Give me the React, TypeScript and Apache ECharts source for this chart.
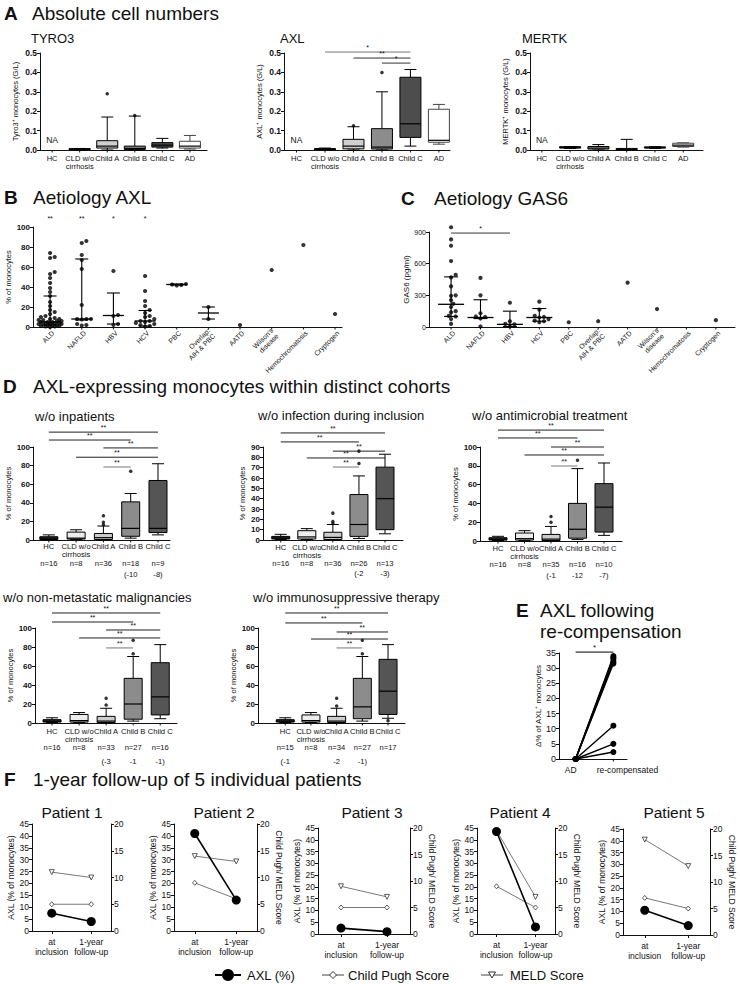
import React, { useEffect, useRef } from 'react';
import * as echarts from 'echarts';

const FONT = '"Liberation Sans", Arial, Helvetica, sans-serif';
const INK = '#111111';

/* ---------------- A: absolute cell numbers ---------------- */
const aCategories = ['HC', 'CLD w/o\ncirrhosis', 'Child A', 'Child B', 'Child C', 'AD'];
// per category: [min, Q1, median, Q3, max]; null = not available
const tyro3Box = [null, [0.001, 0.003, 0.005, 0.007, 0.008], [0, 0.01, 0.02, 0.048, 0.17], [0, 0.003, 0.008, 0.02, 0.175], [0.01, 0.015, 0.025, 0.038, 0.06], [0.005, 0.01, 0.02, 0.045, 0.075]];
const tyro3Outliers = [[2, 0.29], [3, 0.178]];
const axlBox = [null, [0.001, 0.003, 0.005, 0.007, 0.01], [0, 0.006, 0.02, 0.055, 0.12], [0, 0.005, 0.015, 0.11, 0.3], [0.02, 0.065, 0.135, 0.375, 0.415], [0.03, 0.04, 0.05, 0.21, 0.235]];
const axlOutliers = [[2, 0.125], [3, 0.4]];
const axlSig = [[1, 4, 0.505], [2, 4, 0.474], [3, 4, 0.448]];
const axlSigText = ['*', '**', '*'];
const mertkBox = [null, [0.008, 0.01, 0.013, 0.017, 0.018], [0, 0.005, 0.01, 0.018, 0.028], [0, 0.001, 0.003, 0.008, 0.055], [0.008, 0.01, 0.013, 0.016, 0.017], [0.015, 0.018, 0.025, 0.035, 0.037]];
const naNote = [[0, 0.05]];

/* ---------------- B / C: aetiology ---------------- */
const aetiologies = ['ALD', 'NAFLD', 'HBV', 'HCV', 'PBC', 'Overlap:\nAIH & PBC', 'AATD', "Wilson's\ndisease", 'Hemochromatosis', 'Cryptogen'];
const bALD = [74, 70, 69, 55, 53, 49, 44, 39, 35, 31, 25, 21, 17, 15, 13, 11, 10, 9, 8, 8, 7, 7, 6, 6, 5, 5, 5, 4, 4, 4, 3, 3, 3, 2.5, 2, 2, 1.5, 1, 1, 0.5, 0.5, 0];
const bNAFLD = [86, 84, 72, 67, 58, 22, 8, 8, 8, 7.5, 3, 2, 1.5];
const bHBV = [56, 12, 11, 3, 2];
const bHCV = [51, 36, 26, 21, 17, 14, 11, 10, 8, 6, 6, 5, 4, 3, 2, 1, 0.5];
const bPBC = [43, 42.5, 42, 41.5];
const bOverlap = [20, 8];
const bAATD = [2];
const bWilson = [57];
const bHemochromatosis = [82];
const bCryptogen = [13];
// [Q1, median, Q3]
const bMedianIQR = [[2, 5, 31], [7, 8, 68], [3, 11.5, 34], [1, 6, 16.5], [42, 42.5, 43], [8, 14, 20], null, null, null, null];
const bSig = [[0, 0, 104], [1, 1, 104], [2, 2, 104], [3, 3, 104]];
const bSigText = ['**', '**', '*', '*'];

const cALD = [945, 830, 770, 625, 495, 470, 385, 300, 295, 255, 220, 190, 150, 140, 105, 100, 75, 30];
const cNAFLD = [465, 300, 130, 100, 95, 80, 5];
const cHBV = [230, 55, 30, 25, 5];
const cHCV = [240, 165, 105, 95, 90, 75, 60, 55, 45];
const cPBC = [45];
const cOverlap = [55];
const cAATD = [420];
const cWilson = [170];
const cHemochromatosis: number[] = [];
const cCryptogen = [65];
const cMedianIQR = [[100, 215, 475], [80, 90, 258], [5, 25, 150], [55, 90, 175], null, null, null, null, null, null];
const cSig = [[0, 2, 890]];
const cSigText = ['*'];

/* ---------------- D: cohorts ---------------- */
const dCategories = ['HC', 'CLD w/o\ncirrhosis', 'Child A', 'Child B', 'Child C'];
const d1Box = [[0, 0.5, 2, 3.5, 5.5], [0.5, 1, 2, 8.5, 11], [0, 0.5, 2.5, 7, 15], [2, 4, 12.5, 41, 50], [5.5, 8, 12.5, 64, 82]];
const d1Outliers = [[2, 26], [2, 19], [2, 16.5], [3, 74]];
const d1N = ['n=16', 'n=8', 'n=36', 'n=18', 'n=9'];
const d1Extra = ['', '', '', '(-10', '-8)'];
const d1Sig = [[0, 4, 116], [0, 3, 107.5], [2, 4, 99], [1, 4, 89], [2, 3, 78.5]];

const d2Box = [[0.5, 1, 2, 3.5, 5.5], [0.5, 1, 3, 9, 11], [0, 0.5, 2.5, 7.5, 15], [1.5, 3.5, 15, 44, 62], [6, 10, 40, 70.5, 83]];
const d2Outliers = [[2, 26], [2, 18], [2, 16], [3, 74], [3, 86]];
const d2N = ['n=16', 'n=8', 'n=36', 'n=26', 'n=13'];
const d2Extra = ['', '', '', '(-2', '-3)'];
const d2Sig = [[0, 4, 103.6], [0, 3, 94.9], [2, 4, 86], [1, 4, 79.4], [2, 3, 70.6]];

const d3Box = [[0.5, 1, 2, 3.5, 5], [0.5, 1, 2.5, 8.5, 11], [0, 0.5, 2, 7, 15.5], [1.5, 3, 12.5, 40, 77], [6, 9.5, 36, 61, 83]];
const d3Outliers = [[2, 26], [2, 20], [3, 86]];
const d3N = ['n=16', 'n=8', 'n=35', 'n=16', 'n=10'];
const d3Extra = ['', '', '(-1', '-12', '-7)'];
const d3Sig = [[0, 4, 118], [0, 3, 109.6], [2, 4, 100], [1, 4, 91.5], [2, 3, 79.8]];

const d4Box = [[0.5, 1, 2, 3.5, 5.5], [0.5, 1, 2.5, 9, 11], [0, 0.5, 2, 7, 15.5], [2, 4, 20, 47, 70], [4.5, 8.5, 27.5, 63.5, 82.5]];
const d4Outliers = [[2, 26], [2, 19], [3, 73], [3, 87]];
const d4N = ['n=16', 'n=8', 'n=33', 'n=27', 'n=16'];
const d4Extra = ['', '', '(-3', '-1', '-1)'];
const d4Sig = [[0, 4, 115.8], [0, 3, 106.3], [2, 4, 97.9], [1, 4, 89.5], [2, 3, 79]];

const d5Box = [[0.5, 1, 2, 3.5, 5.5], [0.5, 1, 2.5, 8.5, 11], [0, 0.5, 2, 7, 15.5], [2, 4.5, 17, 47, 70], [5, 9, 33.5, 67, 82.5]];
const d5Outliers = [[2, 26], [2, 18], [3, 73], [3, 87], [4, 2.5]];
const d5N = ['n=15', 'n=8', 'n=34', 'n=27', 'n=17'];
const d5Extra = ['(-1', '', '-2', '-1)', ''];
const d5Sig = [[0, 4, 115.8], [0, 3, 105.3], [2, 4, 95.8], [1, 4, 88.4], [2, 3, 79]];
const dSigText = ['**', '**', '**', '**', '**'];

/* ---------------- E ---------------- */
const eCategories = ['AD', 're-compensated'];
const eAD = [0, 0, 0, 0, 0, 0, 0, 0];
const eRecompensated = [34, 33.5, 33, 32.2, 31.5, 11, 5, 2.3];
const eSig = [[0, 1, 35.3]];

/* ---------------- F ---------------- */
const fCategories = ['at\ninclusion', '1-year\nfollow-up'];
const fPatients = ['Patient 1', 'Patient 2', 'Patient 3', 'Patient 4', 'Patient 5'];
const fAXL = [[7.5, 4], [41, 13], [2.5, 1], [43.5, 3], [10.5, 4]];
const fChildPugh = [[5, 5], [9, 6], [5, 5], [9, 5], [7, 5]];
const fMELD = [[11, 10], [14, 13], [9, 7], [19.5, 7], [18, 13]];

/* ================= helpers ================= */
function yAxisDef(g: number, a: any) {
  const ax: any = {
    type: 'value', gridIndex: g, min: a.min, max: a.max, interval: a.int, position: a.pos || 'left',
    axisLine: { show: true, onZero: false, lineStyle: { color: INK, width: 1 } },
    axisTick: { show: true, length: 3, lineStyle: { color: INK, width: 1 } },
    axisLabel: {
      fontSize: a.font, fontWeight: a.bold ? 'bold' : 'normal', color: INK, fontFamily: FONT, margin: 3,
      formatter: (v: number) => (a.dec ? v.toFixed(a.dec) : String(Math.round(v * 1000) / 1000)),
    },
    splitLine: { show: false },
    name: a.name || '', nameLocation: 'middle', nameGap: a.gap || 20,
    nameTextStyle: { fontSize: a.nameFont || 8, color: INK, fontFamily: FONT },
  };
  if (a.rot !== undefined) ax.nameRotate = a.rot;
  return ax;
}

function addValueGrid(o: any, rect: number[], xr: number[], ya: any) {
  const g = o.grid.length;
  o.grid.push({ left: rect[0], top: rect[1], width: rect[2], height: rect[3], containLabel: false });
  const xi = o.xAxis.length;
  o.xAxis.push({
    type: 'value', gridIndex: g, min: xr[0], max: xr[1],
    axisLine: { show: true, onZero: false, lineStyle: { color: INK, width: 1 } },
    axisTick: { show: false }, axisLabel: { show: false }, splitLine: { show: false },
  });
  const yi = o.yAxis.length;
  o.yAxis.push(yAxisDef(g, ya));
  return { xi, yi };
}

function txtStyle(text: string, size: number, extra: any = {}) {
  const align = extra.align || 'center';
  const valign = extra.valign || 'middle';
  return {
    text, fontSize: size, fontFamily: FONT, fill: extra.fill || INK, fontWeight: extra.bold ? 'bold' : 'normal',
    align, verticalAlign: valign, textAlign: align, textVerticalAlign: valign,
    lineHeight: extra.lineHeight || size + 1,
  };
}

function sigSeries(xi: number, yi: number, data: number[][], texts: string[], colors: string[], font = 7) {
  return {
    type: 'custom', xAxisIndex: xi, yAxisIndex: yi, silent: true, clip: false, z: 5, data,
    renderItem: (p: any, api: any) => {
      const a = api.coord([api.value(0), api.value(2)]);
      const b = api.coord([api.value(1), api.value(2)]);
      const k = p.dataIndex;
      const ch: any[] = [];
      if (Math.abs(a[0] - b[0]) > 0.5) {
        ch.push({ type: 'line', shape: { x1: a[0], y1: a[1], x2: b[0], y2: b[1] }, style: { stroke: colors[k] || INK, lineWidth: 1 } });
      }
      ch.push({ type: 'text', x: (a[0] + b[0]) / 2, y: a[1] - 0.5, style: txtStyle(texts[k], font, { valign: 'bottom' }) });
      return { type: 'group', children: ch };
    },
  };
}

function labelSeries(xi: number, yi: number, c: any) {
  return {
    xAxisIndex: xi, yAxisIndex: yi, silent: true, type: 'custom', clip: false, z: 2,
    data: c.cats.map((_: string, i: number) => [i, c.ymin]),
    renderItem: (p: any, api: any) => {
      const i = api.value(0);
      const pt = api.coord([i, api.value(1)]);
      const dx = c.dx ? c.dx[i] : 0;
      const ch: any[] = [
        { type: 'line', shape: { x1: pt[0], y1: pt[1], x2: pt[0], y2: pt[1] + 2.5 }, style: { stroke: INK, lineWidth: 1 } },
        { type: 'text', x: pt[0] + dx, y: pt[1] + c.catOff, style: txtStyle(c.cats[i], c.catFont, { valign: 'top', lineHeight: c.catFont + 0.5 }) },
      ];
      if (c.nLab && c.nLab[i]) ch.push({ type: 'text', x: pt[0], y: pt[1] + c.nOff, style: txtStyle(c.nLab[i], c.catFont) });
      if (c.exLab && c.exLab[i]) ch.push({ type: 'text', x: pt[0], y: pt[1] + c.exOff, style: txtStyle(c.exLab[i], c.catFont) });
      return { type: 'group', children: ch };
    },
  };
}

function addBoxPanel(o: any, c: any) {
  const { xi, yi } = addValueGrid(o, c.rect, c.xr, c.y);
  const base = { xAxisIndex: xi, yAxisIndex: yi, silent: true };
  const items: number[][] = [];
  c.boxes.forEach((b: number[] | null, i: number) => { if (b) items.push([i, ...b]); });
  o.series.push({
    ...base, type: 'custom', clip: false, z: 3, data: items,
    renderItem: (p: any, api: any) => {
      const i = api.value(0);
      const mn = api.value(1), q1 = api.value(2), md = api.value(3), q3 = api.value(4), mx = api.value(5);
      const cx = api.coord([i, md])[0];
      const y = (v: number) => api.coord([i, v])[1];
      const stroke = c.strokes[i];
      const ls = { stroke, lineWidth: 1 };
      const top = y(q3), bot = y(q1);
      const bw = c.boxW, cw = c.capW;
      return {
        type: 'group', children: [
          { type: 'line', shape: { x1: cx, y1: y(mx), x2: cx, y2: top }, style: ls },
          { type: 'line', shape: { x1: cx, y1: bot, x2: cx, y2: y(mn) }, style: ls },
          { type: 'line', shape: { x1: cx - cw / 2, y1: y(mx), x2: cx + cw / 2, y2: y(mx) }, style: ls },
          { type: 'line', shape: { x1: cx - cw / 2, y1: y(mn), x2: cx + cw / 2, y2: y(mn) }, style: ls },
          { type: 'rect', shape: { x: cx - bw / 2, y: top, width: bw, height: Math.max(bot - top, 1.2) }, style: { fill: c.fills[i], stroke, lineWidth: 1 } },
          { type: 'line', shape: { x1: cx - bw / 2, y1: y(md), x2: cx + bw / 2, y2: y(md) }, style: { stroke: '#000', lineWidth: 1.2 } },
        ],
      };
    },
  });
  if (c.out) {
    o.series.push({ ...base, type: 'scatter', clip: false, data: c.out, symbolSize: 3.5, itemStyle: { color: '#000' }, z: 4 });
  }
  o.series.push(labelSeries(xi, yi, { ...c, ymin: c.y.min }));
  if (c.sig) o.series.push(sigSeries(xi, yi, c.sig, c.sigText, c.sigColor));
  if (c.na) {
    o.series.push({
      ...base, type: 'custom', clip: false, z: 4, data: c.na,
      renderItem: (p: any, api: any) => {
        const pt = api.coord([api.value(0), api.value(1)]);
        return { type: 'text', x: pt[0], y: pt[1], style: txtStyle('NA', 8.5) };
      },
    });
  }
}

// deterministic dodge layout (beeswarm), bounded to a share of the band
function swarm(values: number[], idx: number, pxY: number, pxX: number, d: number) {
  const sorted = [...values].sort((a, b) => a - b);
  const placed: number[][] = [];
  const out: number[][] = [];
  const maxOff = pxX * 0.42;
  const step = d * 0.5;
  const cands: number[] = [0];
  for (let k = 1; k * step <= maxOff; k++) cands.push(k * step, -k * step);
  const dmin = d * 0.85;
  for (const v of sorted) {
    const py = v * pxY;
    let chosen = 0;
    let best = -1;
    let found = false;
    for (const off of cands) {
      let m = Infinity;
      for (const q of placed) m = Math.min(m, Math.hypot(q[0] - off, q[1] - py));
      if (m >= dmin) { chosen = off; found = true; break; }
      if (m > best) { best = m; chosen = off; }
    }
    if (!found && best < 0) chosen = 0;
    placed.push([chosen, py]);
    out.push([idx + chosen / pxX, v]);
  }
  return out;
}

function addDotPanel(o: any, c: any) {
  const { xi, yi } = addValueGrid(o, c.rect, c.xr, c.y);
  const base = { xAxisIndex: xi, yAxisIndex: yi, silent: true };
  const pxX = c.rect[2] / (c.xr[1] - c.xr[0]);
  const pxY = c.rect[3] / (c.y.max - c.y.min);
  const pts: number[][] = [];
  c.groups.forEach((vals: number[], i: number) => pts.push(...swarm(vals, i, pxY, pxX, c.dot + 0.4)));
  o.series.push({ ...base, type: 'scatter', clip: false, data: pts, symbolSize: c.dot, itemStyle: { color: '#000' }, z: 3 });
  const errs: number[][] = [];
  c.err.forEach((e: number[] | null, i: number) => { if (e) errs.push([i, ...e]); });
  o.series.push({
    ...base, type: 'custom', clip: false, z: 4, data: errs,
    renderItem: (p: any, api: any) => {
      const i = api.value(0);
      const y1 = api.coord([i, api.value(1)]), ym = api.coord([i, api.value(2)]), y3 = api.coord([i, api.value(3)]);
      const cx = ym[0];
      const ls = { stroke: '#000', lineWidth: 1.1 };
      return {
        type: 'group', children: [
          { type: 'line', shape: { x1: cx, y1: y1[1], x2: cx, y2: y3[1] }, style: ls },
          { type: 'line', shape: { x1: cx - c.capW / 2, y1: y1[1], x2: cx + c.capW / 2, y2: y1[1] }, style: ls },
          { type: 'line', shape: { x1: cx - c.capW / 2, y1: y3[1], x2: cx + c.capW / 2, y2: y3[1] }, style: ls },
          { type: 'line', shape: { x1: cx - c.medW / 2, y1: ym[1], x2: cx + c.medW / 2, y2: ym[1] }, style: { stroke: '#000', lineWidth: 1.3 } },
        ],
      };
    },
  });
  o.series.push({
    ...base, type: 'custom', clip: false, z: 2, data: c.cats.map((_: string, i: number) => [i, c.y.min]),
    renderItem: (p: any, api: any) => {
      const i = api.value(0);
      const pt = api.coord([i, api.value(1)]);
      return {
        type: 'group', children: [
          { type: 'line', shape: { x1: pt[0], y1: pt[1], x2: pt[0], y2: pt[1] + 2.5 }, style: { stroke: INK, lineWidth: 1 } },
          { type: 'text', x: pt[0] + 3, y: pt[1] + 5, rotation: Math.PI / 4, style: txtStyle(c.cats[i], c.catFont, { align: 'right', valign: 'middle', lineHeight: c.catFont + 0.5 }) },
        ],
      };
    },
  });
  if (c.sig) o.series.push(sigSeries(xi, yi, c.sig, c.sigText, c.sig.map(() => '#333')));
}

function addFPanel(o: any, k: number, rect: number[]) {
  const g = o.grid.length;
  o.grid.push({ left: rect[0], top: rect[1], width: rect[2], height: rect[3], containLabel: false });
  const xi = o.xAxis.length;
  o.xAxis.push({
    type: 'category', gridIndex: g, data: fCategories, boundaryGap: true,
    axisLine: { show: true, lineStyle: { color: INK, width: 1 } },
    axisTick: { show: true, alignWithLabel: true, length: 3, lineStyle: { color: INK } },
    axisLabel: { fontSize: 8.5, lineHeight: 10, color: INK, fontFamily: FONT, margin: 6, interval: 0 },
  });
  const yl = o.yAxis.length;
  o.yAxis.push(yAxisDef(g, { min: 0, max: 45, int: 5, font: 8.5, name: 'AXL (% of monocytes)', gap: 16, nameFont: 8.5 }));
  const yr = o.yAxis.length;
  o.yAxis.push(yAxisDef(g, { min: 0, max: 20, int: 5, font: 8.5, pos: 'right', name: k === 0 ? '' : 'Child Pugh/ MELD Score', gap: 17, nameFont: 8.5, rot: -90 }));
  const base = { xAxisIndex: xi, silent: true, animation: false };
  o.series.push({
    ...base, type: 'line', name: 'MELD Score', yAxisIndex: yr, data: fMELD[k], symbol: 'triangle', symbolRotate: 180, symbolSize: 5,
    lineStyle: { color: '#555', width: 0.8 }, itemStyle: { color: '#fff', borderColor: '#333', borderWidth: 0.8 }, z: 2,
  });
  o.series.push({
    ...base, type: 'line', name: 'Child Pugh Score', yAxisIndex: yr, data: fChildPugh[k], symbol: 'diamond', symbolSize: [4.5, 5],
    lineStyle: { color: '#555', width: 0.8 }, itemStyle: { color: '#fff', borderColor: '#333', borderWidth: 0.8 }, z: 3,
  });
  o.series.push({
    ...base, type: 'line', name: 'AXL (%)', yAxisIndex: yl, data: fAXL[k], symbol: 'circle', symbolSize: 9,
    lineStyle: { color: '#000', width: 1.6 }, itemStyle: { color: '#000' }, z: 4,
  });
}

function T(x: number, y: number, text: string, size: number, bold = false, align = 'left') {
  return { type: 'text', x, y, silent: true, z: 10, style: txtStyle(text, size, { bold, align }) };
}

function buildOption() {
  const o: any = { grid: [], xAxis: [], yAxis: [], series: [], graphic: [] };
  const aFills = ['#ffffff', '#222222', '#cfcfcf', '#8c8c8c', '#4d4d4d', '#ffffff'];
  const aStrokes = ['#000', '#000', '#000', '#000', '#000', '#444'];
  const aY = (name: string) => ({ min: 0, max: 0.5, int: 0.1, dec: 1, bold: true, font: 8.5, name, gap: 21, nameFont: 7.5 });
  const aCommon = { cats: aCategories, catFont: 7.5, catOff: 4, fills: aFills, strokes: aStrokes, boxW: 21, capW: 12, na: naNote };

  addBoxPanel(o, { ...aCommon, rect: [40, 53, 167, 97], xr: [-0.44, 5.62], y: aY('Tyro3⁺ monocytes (G/L)'), boxes: tyro3Box, out: tyro3Outliers });
  addBoxPanel(o, { ...aCommon, rect: [284, 53, 166, 97], xr: [-0.44, 5.39], y: aY('AXL⁺ monocytes (G/L)'), boxes: axlBox, out: axlOutliers, sig: axlSig, sigText: axlSigText, sigColor: ['#777', '#333', '#333'] });
  addBoxPanel(o, { ...aCommon, rect: [530, 53, 173, 97], xr: [-0.42, 5.7], y: aY('MERTK⁺ monocytes (G/L)'), boxes: mertkBox });

  // B
  addDotPanel(o, {
    rect: [33, 227, 309, 100], xr: [-0.54, 9.22],
    y: { min: 0, max: 100, int: 20, bold: true, font: 8, name: '% of monocytes', gap: 19, nameFont: 7.5 },
    cats: aetiologies, catFont: 7, dot: 4.2, capW: 13, medW: 21,
    groups: [bALD, bNAFLD, bHBV, bHCV, bPBC, bOverlap, bAATD, bWilson, bHemochromatosis, bCryptogen],
    err: bMedianIQR, sig: bSig, sigText: bSigText,
  });
  // C
  addDotPanel(o, {
    rect: [429, 232, 306, 95], xr: [-0.75, 9.65],
    y: { min: 0, max: 900, int: 300, bold: false, font: 7, name: 'GAS6 (pg/ml)', gap: 18, nameFont: 8 },
    cats: aetiologies, catFont: 7, dot: 4.2, capW: 14, medW: 26,
    groups: [cALD, cNAFLD, cHBV, cHCV, cPBC, cOverlap, cAATD, cWilson, cHemochromatosis, cCryptogen],
    err: cMedianIQR, sig: cSig, sigText: cSigText,
  });

  // D
  const dFills = ['#3a3a3a', '#ececec', '#cccccc', '#8c8c8c', '#555555'];
  const dStrokes = ['#000', '#000', '#000', '#000', '#000'];
  const dSigColor = ['#222', '#222', '#222', '#222', '#777'];
  const dY = (max: number, int: number) => ({ min: 0, max, int, bold: true, font: 8, name: '% of monocytes', gap: 17, nameFont: 7.5 });
  const dCommon = { cats: dCategories, catFont: 7.6, fills: dFills, strokes: dStrokes, boxW: 18, capW: 12, sigText: dSigText, sigColor: dSigColor };
  addBoxPanel(o, { ...dCommon, rect: [33, 447, 137, 93], xr: [-0.58, 4.44], y: dY(100, 20), boxes: d1Box, out: d1Outliers, nLab: d1N, exLab: d1Extra, catOff: 2, nOff: 23, exOff: 34, sig: d1Sig });
  addBoxPanel(o, { ...dCommon, rect: [263, 447, 140, 93], xr: [-0.68, 4.69], y: dY(90, 10), boxes: d2Box, out: d2Outliers, nLab: d2N, exLab: d2Extra, catOff: 3, nOff: 23, exOff: 33, sig: d2Sig });
  addBoxPanel(o, { ...dCommon, rect: [480, 447, 142, 94], xr: [-0.68, 4.68], y: dY(100, 20), boxes: d3Box, out: d3Outliers, nLab: d3N, exLab: d3Extra, catOff: 3, nOff: 23, exOff: 34, sig: d3Sig });
  addBoxPanel(o, { ...dCommon, rect: [35, 628, 142, 95], xr: [-0.63, 4.62], y: dY(100, 20), boxes: d4Box, out: d4Outliers, nLab: d4N, exLab: d4Extra, catOff: 4, nOff: 24, exOff: 38, sig: d4Sig });
  addBoxPanel(o, { ...dCommon, rect: [258, 628, 147, 95], xr: [-1.06, 4.66], y: dY(100, 20), boxes: d5Box, out: d5Outliers, nLab: d5N, exLab: d5Extra, catOff: 4, nOff: 24, exOff: 38, sig: d5Sig });

  // E
  {
    const { xi, yi } = addValueGrid(o, [559, 653, 68, 106], [-0.44, 1.36], { min: 0, max: 35, int: 5, font: 9, name: 'Δ% of AXL⁺ monocytes', gap: 17, nameFont: 8 });
    eRecompensated.forEach((v, k) => {
      o.series.push({
        type: 'line', xAxisIndex: xi, yAxisIndex: yi, silent: true, data: [[0, eAD[k]], [1, v]], symbol: 'circle', symbolSize: 6,
        lineStyle: { color: '#000', width: 1.4 }, itemStyle: { color: '#000' }, z: 3, clip: false,
      });
    });
    o.series.push(labelSeries(xi, yi, { cats: eCategories, ymin: 0, catFont: 8.5, catOff: 6, dx: [-5, 14] }));
    o.series.push(sigSeries(xi, yi, eSig, ['*'], ['#000'], 8));
  }

  // F
  const fRects = [[32, 824, 79, 107], [174, 824, 83, 107], [318, 828, 92, 106], [477, 828, 78, 106], [623, 829, 87, 106]];
  const fTitleX = [72, 224, 372, 520, 674];
  fRects.forEach((r, k) => addFPanel(o, k, r));

  // headings
  const H = 19;
  const gr = o.graphic;
  gr.push(T(4, 13, 'A', H, true), T(32, 13, 'Absolute cell numbers', H));
  gr.push(T(31, 38, 'TYRO3', 13), T(280, 38, 'AXL', 13), T(522, 38, 'MERTK', 13));
  gr.push(T(4, 197, 'B', H, true), T(33, 197, 'Aetiology AXL', H));
  gr.push(T(401, 198, 'C', H, true), T(434, 198, 'Aetiology GAS6', H));
  gr.push(T(3, 386, 'D', H, true), T(33, 386, 'AXL-expressing monocytes within distinct cohorts', H));
  gr.push(T(35, 416, 'w/o inpatients', 13), T(258, 415, 'w/o infection during inclusion', 13), T(472, 415, 'w/o antimicrobial treatment', 13));
  gr.push(T(3, 597, 'w/o non-metastatic malignancies', 13), T(253, 597, 'w/o immunosuppressive therapy', 13));
  gr.push(T(516, 610, 'E', H, true), T(540, 610, 'AXL following', H), T(540, 631, 're-compensation', H));
  gr.push(T(4, 779, 'F', H, true), T(33, 779, '1-year follow-up of 5 individual patients', H));
  fPatients.forEach((p, k) => gr.push(T(fTitleX[k], 812, p, 15.5, false, 'center')));

  // legend for F
  const ly = 975;
  gr.push({ type: 'line', silent: true, shape: { x1: 215, y1: ly, x2: 241, y2: ly }, style: { stroke: '#000', lineWidth: 2 } });
  gr.push({ type: 'circle', silent: true, shape: { cx: 228, cy: ly, r: 6 }, style: { fill: '#000' } });
  gr.push(T(247, ly, 'AXL (%)', 13));
  gr.push({ type: 'line', silent: true, shape: { x1: 322, y1: ly, x2: 344, y2: ly }, style: { stroke: '#444', lineWidth: 1 } });
  gr.push({ type: 'polygon', silent: true, shape: { points: [[333, ly - 3.5], [336.5, ly], [333, ly + 3.5], [329.5, ly]] }, style: { fill: '#fff', stroke: '#333', lineWidth: 1 } });
  gr.push(T(348, ly, 'Child Pugh Score', 13));
  gr.push({ type: 'line', silent: true, shape: { x1: 481, y1: ly, x2: 503, y2: ly }, style: { stroke: '#444', lineWidth: 1 } });
  gr.push({ type: 'polygon', silent: true, shape: { points: [[488.5, ly - 3], [495.5, ly - 3], [492, ly + 3]] }, style: { fill: '#fff', stroke: '#333', lineWidth: 1 } });
  gr.push(T(510, ly, 'MELD Score', 13));

  return {
    animation: false,
    backgroundColor: '#ffffff',
    textStyle: { fontFamily: FONT },
    grid: o.grid, xAxis: o.xAxis, yAxis: o.yAxis, series: o.series, graphic: o.graphic,
  };
}

export default function App() {
  const ref = useRef<HTMLDivElement>(null);
  useEffect(() => {
    if (!ref.current) return;
    const chart = echarts.init(ref.current, null, { renderer: 'svg', width: 740, height: 984 });
    chart.setOption(buildOption() as any);
    return () => chart.dispose();
  }, []);
  return <div ref={ref} style={{ position: 'fixed', left: 0, top: 0, width: 740, height: 984, background: '#fff' }} />;
}
